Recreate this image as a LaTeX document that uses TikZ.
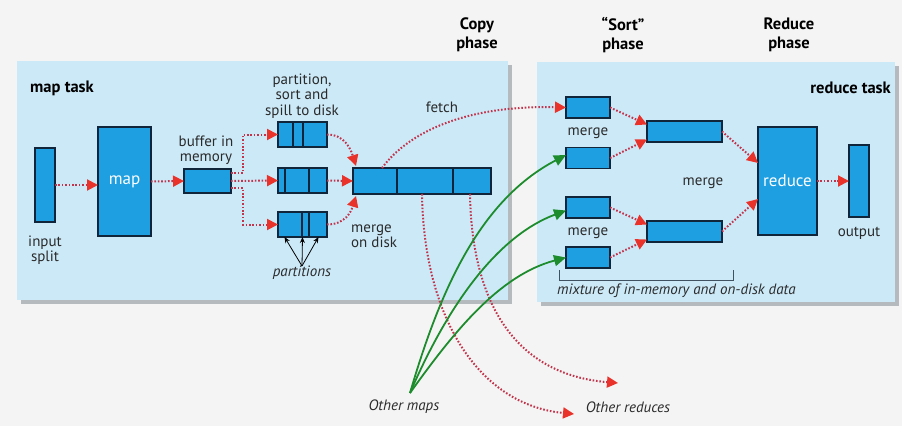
\documentclass[tikz,border=0pt]{standalone}
\usepackage{fontspec}
\setmainfont{PT Sans}
\usetikzlibrary{arrows.meta}
\definecolor{bgc}{HTML}{F4F4F4}
\definecolor{panel}{HTML}{CCE9F8}
\definecolor{boxc}{HTML}{1D9FE2}
\definecolor{boxb}{HTML}{10253A}
\definecolor{dotc}{HTML}{C2344C}
\definecolor{tipc}{HTML}{E8322A}
\definecolor{grn}{HTML}{1C8C2C}
\definecolor{shad}{HTML}{B4BABE}
\definecolor{txt}{HTML}{2A2A2A}
\begin{document}
\begin{tikzpicture}[x=1pt,y=-1pt,
  blk/.style={draw=boxb, line width=1.3pt, fill=boxc, inner sep=0pt, outer sep=0pt},
  divl/.style={draw=boxb, line width=1.3pt},
  dot/.style={draw=dotc, line width=2pt, dash pattern=on 1.6pt off 1.8pt,
     -{Triangle[length=11pt,width=11pt,color=tipc]}},
  garr/.style={draw=grn, line width=1.8pt, -{Triangle[length=12pt,width=11pt,color=grn]}},
  karr/.style={draw=black, line width=0.8pt, -{Stealth[length=6pt,width=5pt]}},
  lbl/.style={font=\fontsize{15}{15.5}\selectfont, text=txt, align=center, inner sep=0pt},
  ilbl/.style={font=\fontsize{15}{15.5}\selectfont\itshape, text=txt, align=center, inner sep=0pt},
  ttl/.style={font=\fontsize{16.5}{19}\selectfont\bfseries, text=black, align=center, inner sep=0pt},
  wlbl/.style={font=\fontsize{17}{18}\selectfont, text=white}
]
\useasboundingbox (0,0) rectangle (902,426);
\fill[bgc] (0,0) rectangle (902,426);
% panels
\fill[shad] (21,65) rectangle (512,304);
\fill[panel] (17,61) rectangle (508,300);
\fill[shad] (541,66) rectangle (899,306);
\fill[panel] (537,62) rectangle (895,302);

% titles
\node[ttl, anchor=west] (maptask) at (30,88) {map task};
\node[ttl, anchor=east] (redtask) at (891,88) {reduce task};
\node[ttl] (copyph) at (477,35) {Copy\\phase};
\node[ttl] (sortph) at (623,35) {“Sort”\\phase};
\node[ttl] (redph) at (789,35) {Reduce\\phase};

% map side boxes
\node[blk, minimum width=20pt, minimum height=74pt] (insplit) at (45,185) {};
\node[blk, minimum width=53pt, minimum height=109pt, wlbl] (mapb) at (124.5,181.5) {map};
\node[blk, minimum width=47pt, minimum height=24pt] (buf) at (207.5,181) {};
\node[blk, minimum width=49pt, minimum height=25pt] (s1) at (302.5,134.5) {};
\node[blk, minimum width=49pt, minimum height=25pt] (s2) at (302.5,180.5) {};
\node[blk, minimum width=49pt, minimum height=25pt] (s3) at (302.5,224.5) {};
\node[blk, minimum width=138pt, minimum height=26pt] (disk) at (422,181) {};
\draw[divl] ([xshift=15pt]s1.north west) -- ([xshift=15pt]s1.south west);
\draw[divl] ([xshift=25pt]s1.north west) -- ([xshift=25pt]s1.south west);
\draw[divl] ([xshift=7pt]s2.north west) -- ([xshift=7pt]s2.south west);
\draw[divl] ([xshift=31pt]s2.north west) -- ([xshift=31pt]s2.south west);
\draw[divl] ([xshift=24pt]s3.north west) -- ([xshift=24pt]s3.south west);
\draw[divl] ([xshift=31pt]s3.north west) -- ([xshift=31pt]s3.south west);
\draw[divl] ([xshift=44pt]disk.north west) -- ([xshift=44pt]disk.south west);
\draw[divl] ([xshift=100pt]disk.north west) -- ([xshift=100pt]disk.south west);

% map side labels
\node[lbl] (insplitl) at (45,250) {input\\split};
\node[lbl] (bufl) at (206,150) {buffer in\\memory};
\node[lbl] (psl) at (302,96) {partition,\\sort and\\spill to disk};
\node[lbl, align=left, anchor=west] (mdl) at (351,236) {merge\\on disk};
\node[ilbl] (parts) at (302,273) {partitions};
\node[lbl] (fetchl) at (442,107) {fetch};

% reduce side boxes
\node[blk, minimum width=44pt, minimum height=21pt] (m1) at (588,107.5) {};
\node[blk, minimum width=44pt, minimum height=21pt] (m2) at (588,158) {};
\node[blk, minimum width=44pt, minimum height=21pt] (m3) at (588,207.5) {};
\node[blk, minimum width=44pt, minimum height=21pt] (m4) at (588,257.5) {};
\node[blk, minimum width=75pt, minimum height=21pt] (mid1) at (684.5,131.5) {};
\node[blk, minimum width=75pt, minimum height=21pt] (mid2) at (684.5,231.5) {};
\node[blk, minimum width=59pt, minimum height=108pt, wlbl] (redb) at (787.5,181) {reduce};
\node[blk, minimum width=20pt, minimum height=72pt] (outb) at (859,181) {};

% reduce side labels
\node[lbl] (mg1) at (588,133) {merge};
\node[lbl] (mg2) at (588,233) {merge};
\node[lbl] (mg3) at (703,183) {merge};
\node[lbl] (outl) at (859,233) {output};
\draw[boxb!80, line width=0.8pt] (559,270) |- (733,280) -- (733,270);
\node[ilbl, anchor=west] (mixl) at (557,291) {mixture of in-memory and on-disk data};

% bottom labels
\node[ilbl] (om) at (404,407) {Other maps};
\node[ilbl] (orr) at (628,407) {Other reduces};
\coordinate (omp) at (410,393);
\coordinate (orA) at (574,414);
\coordinate (orB) at (618,383);

% map side arrows
\draw[dot] (insplit.east) -- (insplit.east -| mapb.west);
\draw[dot] (mapb.east) -- (buf.west);
\draw[dot] ([yshift=8pt]buf.east) -- ++(12,0) |- (s1.west);
\draw[dot] (buf.east) -- (s2.west);
\draw[dot] ([yshift=-7pt]buf.east) -- ++(12,0) |- (s3.west);
\draw[dot] (s1.east) .. controls +(18,0) and +(-5,-16) .. ([xshift=3pt,yshift=2pt]disk.north west);
\draw[dot] (s2.east) -- (disk.west);
\draw[dot] (s3.east) .. controls +(18,0) and +(-5,16) .. ([xshift=3pt,yshift=-2pt]disk.south west);
\draw[karr] (parts.north) -- ([xshift=-18pt]s3.south);
\draw[karr] (parts.north) -- (s3.south);
\draw[karr] (parts.north) -- ([xshift=16pt]s3.south);

% fetch and other reduces
\draw[dot] ([xshift=-40pt]disk.north) .. controls (410,130) and (470,105) .. (m1.west);
\draw[dot] (disk.south) .. controls (424,320) and (480,405) .. (orA);
\draw[dot] ([xshift=48pt]disk.south) .. controls (472,310) and (520,375) .. (orB);

% other maps
\draw[garr] (omp) .. controls (440,290) and (480,200) .. ([yshift=3pt]m2.west);
\draw[garr] (omp) .. controls (450,300) and (500,235) .. ([yshift=-3pt]m3.west);
\draw[garr] (omp) .. controls (455,330) and (500,275) .. (m4.west);

% reduce side arrows
\draw[dot] (m1.east) -- ([yshift=7pt]mid1.west);
\draw[dot] (m2.east) -- ([yshift=-8pt]mid1.west);
\draw[dot] (m3.east) -- ([yshift=7pt]mid2.west);
\draw[dot] (m4.east) -- ([yshift=-8pt]mid2.west);
\draw[dot] (mid1.east) -- ([yshift=18pt]redb.west);
\draw[dot] (mid2.east) -- ([yshift=-18pt]redb.west);
\draw[dot] (redb.east) -- (outb.west);
\end{tikzpicture}
\end{document}
